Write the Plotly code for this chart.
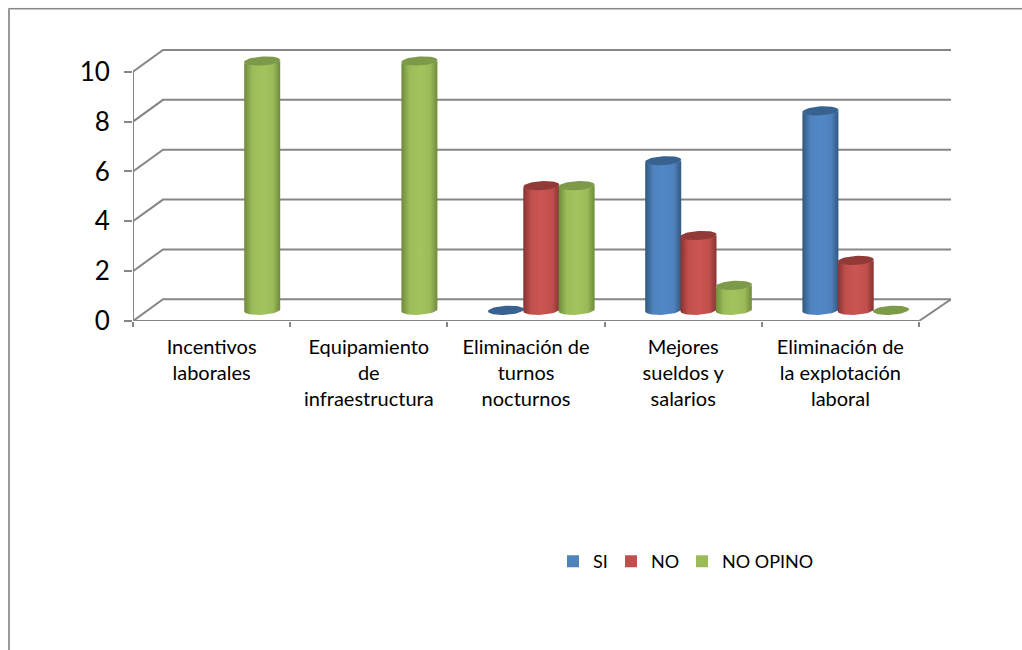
import math
import plotly.graph_objects as go

categories = [
    "Incentivos<br>laborales",
    "Equipamiento<br>de<br>infraestructura",
    "Eliminación de<br>turnos<br>nocturnos",
    "Mejores<br>sueldos y<br>salarios",
    "Eliminación de<br>la explotación<br>laboral",
]
si = [None, None, 0, 6, 8]
no = [None, None, 5, 3, 2]
no_opino = [10, 10, 5, 1, 0]
value_ticks = [0, 2, 4, 6, 8, 10]

# Plot area in page pixels; one category is 157.2 px wide, one unit 24.9 px tall
LEFT, RIGHT, TOP, BOTTOM = 133, 951, 49, 320.7
CAT_PX, UNIT_PX = 157.2, 24.9
x_max = (RIGHT - LEFT) / CAT_PX
y_max = (BOTTOM - TOP) / UNIT_PX

# Oblique depth of the back wall, and where the columns stand on the floor
WALL_DX, WALL_DY = 30 / CAT_PX, 21.7 / UNIT_PX
BASE_DX, BASE_DY = 15.3 / CAT_PX, 10.7 / UNIT_PX
STEP = 35.3 / CAT_PX
RX, RY = 18 / CAT_PX, 4.5 / UNIT_PX
TILT = (1 / UNIT_PX) / RX

GRID = "#868686"
series = [
    dict(name="SI", values=si, slot=-1, legend="legend", main="#4f81bd",
         light="#5288c8", dark="#30597f", cap="#38628f", legend_px=553),
    dict(name="NO", values=no, slot=0, legend="legend2", main="#c0504d",
         light="#cb5552", dark="#853432", cap="#923a38", legend_px=611),
    dict(name="NO OPINO", values=no_opino, slot=1, legend="legend3", main="#9bbb59",
         light="#a2c45d", dark="#6f8a3a", cap="#7c9a48", legend_px=682),
]


def ellipse_point(cx, cy, t):
    return cx + RX * math.cos(t), cy + RY * math.sin(t) + TILT * RX * math.cos(t)


def arc(cx, cy, start, stop, n=24):
    pts = [ellipse_point(cx, cy, start + (stop - start) * i / n) for i in range(n + 1)]
    return [p[0] for p in pts], [p[1] for p in pts]


def wall_line(xs, ys):
    return go.Scatter(x=xs, y=ys, mode="lines", line=dict(color=GRID, width=2),
                      cliponaxis=False, showlegend=False, hoverinfo="skip")


fig = go.Figure()

# Flat column bars carry the values and the legend; cylinders are layered above them
for s in series:
    xs = [i + 0.5 + BASE_DX + s["slot"] * STEP for i in range(len(categories))]
    fig.add_trace(go.Bar(
        x=xs, y=s["values"], base=BASE_DY, width=2 * RX * 0.9, name=s["name"],
        marker=dict(color=s["main"], line=dict(width=0)), legend=s["legend"],
        hoverinfo="skip",
    ))

# Back wall gridlines with their slanted side-wall returns, then the floor edge
for v in value_ticks:
    fig.add_trace(wall_line([0, WALL_DX, x_max], [v, v + WALL_DY, v + WALL_DY]))
fig.add_trace(wall_line([0, 0], [0, 10]))
fig.add_trace(wall_line([0, len(categories), x_max], [0, 0, WALL_DY]))

# Cylinder bodies and caps
for s in series:
    for i, v in enumerate(s["values"]):
        if v is None:
            continue
        cx = i + 0.5 + BASE_DX + s["slot"] * STEP
        top = v + BASE_DY
        if v > 0:
            bx, by = arc(cx, BASE_DY, math.pi, 2 * math.pi)
            tx, ty = arc(cx, top, 2 * math.pi, math.pi)
            fig.add_trace(go.Scatter(
                x=bx + tx + bx[:1], y=by + ty + by[:1], mode="lines", line=dict(width=0),
                fill="toself",
                fillgradient=dict(type="horizontal", colorscale=[
                    [0, s["dark"]], [0.22, s["main"]], [0.5, s["light"]],
                    [0.8, s["main"]], [1, s["dark"]],
                ]),
                cliponaxis=False, showlegend=False, hoverinfo="skip",
            ))
        cap_x, cap_y = arc(cx, top, 0, 2 * math.pi, 48)
        fig.add_trace(go.Scatter(
            x=cap_x, y=cap_y, mode="lines", line=dict(width=0), fill="toself",
            fillcolor=s["cap"], cliponaxis=False, showlegend=False, hoverinfo="skip",
        ))

plot_w, plot_h = RIGHT - LEFT, BOTTOM - TOP
frame = []
for colour, inset in (("#808080", 8.5), ("#c4c4c4", 9.5)):
    px = (inset - LEFT) / plot_w
    py = 1 - (inset - TOP) / plot_h
    frame.append(dict(type="line", xref="paper", yref="paper", x0=px, x1=(1022 - LEFT) / plot_w,
                      y0=py, y1=py, line=dict(color=colour, width=1)))
    frame.append(dict(type="line", xref="paper", yref="paper", x0=px, x1=px,
                      y0=py, y1=1 - (650 - TOP) / plot_h, line=dict(color="#999999", width=1)))

legend_font = dict(family="Lato", size=18, color="#000000")
layouts = {}
for s in series:
    layouts[s["legend"]] = dict(
        x=(s["legend_px"] - LEFT) / plot_w, xanchor="left",
        y=1 - (561 - TOP) / plot_h, yanchor="middle",
        font=legend_font, bgcolor="rgba(0,0,0,0)", borderwidth=0,
    )

fig.update_layout(
    width=1022, height=650, autosize=False,
    margin=dict(l=LEFT, r=1022 - RIGHT, t=TOP, b=650 - BOTTOM, pad=0),
    paper_bgcolor="white", plot_bgcolor="white", showlegend=True, barmode="overlay",
    shapes=frame, font=dict(family="Lato", color="#000000"),
    xaxis=dict(
        range=[0, x_max], showgrid=False, zeroline=False, showline=False,
        tickmode="array", tickvals=[i + 0.5 for i in range(len(categories))],
        ticktext=categories, ticks="", tickangle=0, ticklabelstandoff=12,
        tickfont=dict(family="Lato", size=20, color="#000000"),
        minor=dict(tickmode="array", tickvals=list(range(len(categories) + 1)),
                   ticks="outside", ticklen=5, tickwidth=2, tickcolor=GRID, showgrid=False),
    ),
    yaxis=dict(
        range=[0, y_max], showgrid=False, zeroline=False, showline=False,
        tickmode="array", tickvals=value_ticks, ticks="outside", ticklen=8,
        tickwidth=2, tickcolor=GRID, ticklabelstandoff=9,
        tickfont=dict(family="Lato", size=26, color="#000000"),
    ),
    **layouts,
)

fig.write_html("out.html")
